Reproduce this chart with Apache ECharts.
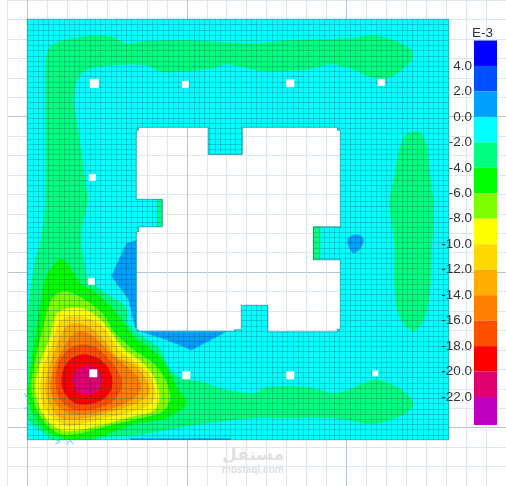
<!DOCTYPE html>
<html>
<head>
<meta charset="utf-8">
<style>
  html, body { margin: 0; padding: 0; background: #fff; }
  #chart { width: 506px; height: 486px; }
</style>
</head>
<body>
<div id="chart"></div>
<script src="https://cdn.jsdelivr.net/npm/echarts@6/dist/echarts.min.js"></script>
<script>
// colour scale, top band first
const bandHigh = [6, 4, 2, 0, -2, -4, -6, -8, -10, -12, -14, -16, -18, -20, -22];
const bandLow = [4, 2, 0, -2, -4, -6, -8, -10, -12, -14, -16, -18, -20, -22, -24.2];
const bandColor = ["#0000ff", "#0050ff", "#00a0ff", "#00ffff", "#00ff80", "#00ff00", "#80ff00", "#ffff00",
  "#ffd800", "#ffae00", "#ff8000", "#ff5000", "#ff0000", "#e00070", "#c000c0"];

// slab size and opening, in plate units
const plateWidth = 421.4;
const plateHeight = 420.4;
const meshCells = 81;
const opening = [[181, 108], [181, 135], [215, 135], [215, 108], [310, 108], [310, 111], [313, 111], [313, 207.5],
  [286, 207.5], [286, 240.5], [313, 240.5], [313, 310], [310, 310], [310, 312.5], [240.5, 312.5], [240.5, 286],
  [214, 286], [214, 310.5], [207, 310.5], [207, 312], [111, 312], [111, 310.5], [109, 310.5], [109, 212.5],
  [111.5, 212.5], [111.5, 207.5], [135, 207.5], [135, 180], [109, 180], [109, 111], [111, 111], [111, 108]];

// column openings
const columnX = [67, 158, 263, 354, 65, 64, 66, 159, 263, 348];
const columnY = [64, 65, 64, 63, 158, 262, 354, 356, 356, 354];
const columnSize = [9, 7, 8, 7, 7, 7, 8, 8, 8, 6];

// contours: -2 to -4
const ringMinus3 = [[19, 37], [23, 27], [36, 21], [69, 16], [86, 18], [99, 24], [116, 22], [159, 21], [226, 24], [259, 21],
  [323, 19], [346, 16], [366, 21], [381, 28], [386, 36], [382, 44], [369, 55], [357, 60], [346, 59], [332, 53], [316, 47],
  [302, 45], [282, 50], [236, 52], [199, 45], [186, 49], [136, 53], [119, 46], [86, 46], [59, 51], [49, 64], [47, 84],
  [51, 111], [56, 147], [60, 181], [55, 207], [54, 224], [57, 244], [60, 257], [69, 267], [83, 277], [98, 287], [101, 304],
  [108, 312], [119, 320], [133, 330], [141, 347], [153, 359], [173, 362], [193, 369], [226, 374], [239, 368], [282, 368],
  [306, 374], [322, 370], [336, 364], [347, 360], [362, 364], [379, 374], [386, 385], [379, 394], [359, 402], [342, 405],
  [326, 402], [309, 399], [259, 399], [226, 399], [173, 405], [133, 412], [106, 416], [73, 419], [63, 422], [28, 422],
  [16, 414], [-1, 397], [-1, 321], [1, 287], [5, 257], [9, 237], [13, 224], [18, 181], [18, 81]];
const sideMinus3 = [[387, 112], [394, 114], [399, 124], [402, 147], [406, 184], [404, 244], [402, 280], [397, 300], [387, 312],
  [376, 304], [369, 287], [367, 264], [367, 224], [362, 184], [367, 157], [371, 134], [377, 117]];
const notchLeftMinus3 = [[130, 180], [135, 180], [135, 207.5], [130, 207.5]];
const notchRightMinus3 = [[286, 207.5], [293, 207.5], [293, 240.5], [286, 240.5]];

// hot zone, nested
const hotMinus5 = [[32, 240], [38, 242], [44, 250], [53, 264], [69, 274], [86, 290], [99, 307], [106, 317], [129, 334], [139, 347],
  [149, 367], [159, 382], [158, 387], [139, 399], [106, 405], [73, 417], [43, 420], [23, 414], [9, 400], [1, 380], [3, 350],
  [8, 317], [14, 280], [19, 257]];
const hotMinus7 = [[36, 272], [48, 275], [63, 284], [76, 295], [88, 314], [106, 330], [126, 344], [138, 360], [143, 379], [136, 392],
  [113, 399], [79, 407], [53, 414], [33, 415], [18, 404], [8, 387], [4, 367], [8, 340], [16, 307], [24, 280]];
const hotMinus9 = [[41, 289], [58, 290], [73, 300], [83, 312], [96, 329], [116, 344], [128, 360], [132, 380], [126, 392], [106, 397],
  [69, 407], [39, 412], [24, 405], [13, 390], [8, 367], [14, 340], [23, 317], [29, 295]];
const hotMinus11 = [[41, 297], [53, 297], [68, 302], [79, 312], [91, 330], [109, 344], [123, 357], [128, 374], [123, 385], [106, 392],
  [73, 400], [41, 407], [28, 400], [16, 387], [13, 367], [16, 347], [24, 327], [31, 304]];
const hotMinus13 = [[39, 307], [51, 304], [64, 309], [76, 320], [89, 337], [106, 345], [119, 360], [122, 374], [109, 384], [79, 394],
  [53, 400], [34, 399], [23, 387], [18, 370], [21, 350], [29, 327]];
const hotMinus15 = [[54, 312], [66, 317], [79, 330], [93, 342], [108, 355], [114, 367], [109, 377], [86, 389], [59, 395], [41, 394],
  [28, 384], [23, 367], [26, 350], [33, 334], [44, 317]];
const hotMinus17 = [[54, 325], [66, 327], [76, 334], [88, 347], [94, 360], [94, 370], [83, 384], [61, 391], [43, 389], [31, 377],
  [28, 360], [31, 344], [41, 330]];
const hotMinus19 = [[56, 335], [71, 339], [81, 349], [85, 360], [84, 370], [76, 380], [61, 385], [48, 384], [38, 375], [34, 364],
  [36, 350], [43, 340]];
const hotMinus21 = [[56, 347], [63, 346], [69, 349], [74, 357], [74, 365], [68, 374], [58, 376], [49, 372], [45, 362], [48, 352]];

// positive patches beside the opening
const patchWest = [[109, 221], [99, 224], [84, 257], [101, 280], [108, 309], [109, 309]];
const patchSouth = [[114, 312.5], [199, 312.5], [164, 331], [140, 321]];
const patchEast = [[321, 219], [328, 215], [336, 219], [334, 228], [326, 234], [320, 224]];
const patchBottom = [[103, 419], [203, 419], [203, 421], [103, 421]];

// support marks
const supportMarks = [[-3, 374, 1, 380], [-3, 390, 1, 386], [28, 420, 33, 422], [28, 425, 33, 422], [39, 425, 43, 421], [43, 421, 46, 425]];

const platePoints = [[181, 0], [plateWidth, 0], [plateWidth, plateHeight], [0, plateHeight], [0, 0], [181, 0],
  opening[0], ...opening.slice(1).reverse(), opening[0]];
const plateEdge = [[0, 0], [plateWidth, 0], [plateWidth, plateHeight], [0, plateHeight]];

const regions = [
  { value: -1, points: platePoints, smooth: 0 },
  { value: -3, points: ringMinus3, smooth: 0.3 },
  { value: -3, points: sideMinus3, smooth: 0.3 },
  { value: -3, points: notchLeftMinus3, smooth: 0 },
  { value: -3, points: notchRightMinus3, smooth: 0 },
  { value: -5, points: hotMinus5, smooth: 0.3 },
  { value: -7, points: hotMinus7, smooth: 0.3 },
  { value: -9, points: hotMinus9, smooth: 0.3 },
  { value: -11, points: hotMinus11, smooth: 0.3 },
  { value: -13, points: hotMinus13, smooth: 0.3 },
  { value: -15, points: hotMinus15, smooth: 0.3 },
  { value: -17, points: hotMinus17, smooth: 0.3 },
  { value: -19, points: hotMinus19, smooth: 0.3 },
  { value: -21, points: hotMinus21, smooth: 0.3 },
  { value: 1, points: patchWest, smooth: 0 },
  { value: 1, points: patchSouth, smooth: 0 },
  { value: 1, points: patchEast, smooth: 0.3 },
  { value: 1, points: patchBottom, smooth: 0 },
];

function colorOf(v) {
  const i = bandHigh.findIndex((h, k) => v <= h && v >= bandLow[k]);
  return bandColor[i];
}

// mesh lines stop at the opening
function meshRuns(horizontal, c, end) {
  const cuts = [];
  opening.forEach((p, i) => {
    const q = opening[(i + 1) % opening.length];
    const a = horizontal ? p[1] : p[0];
    const b = horizontal ? q[1] : q[0];
    if ((a < c) !== (b < c)) cuts.push(horizontal ? p[0] : p[1]);
  });
  cuts.sort((a, b) => a - b);
  const stops = [0, ...cuts, end];
  const runs = [];
  for (let i = 0; i < stops.length; i += 2) {
    runs.push(horizontal ? [stops[i], c, stops[i + 1], c] : [c, stops[i], c, stops[i + 1]]);
  }
  return runs;
}

const meshSegments = [];
for (let i = 1; i < meshCells; i++) {
  meshSegments.push(...meshRuns(true, (i * plateHeight) / meshCells, plateWidth));
  meshSegments.push(...meshRuns(false, (i * plateWidth) / meshCells, plateHeight));
}

const segmentItem = (stroke) => (params, api) => {
  const a = api.coord([api.value(0), api.value(1)]);
  const b = api.coord([api.value(2), api.value(3)]);
  // keep the thin lines on whole pixels
  const snap = (n) => Math.round(n) + 0.5;
  const flatX = a[0] === b[0];
  const flatY = a[1] === b[1];
  return {
    type: "line",
    shape: {
      x1: flatX ? snap(a[0]) : a[0],
      y1: flatY ? snap(a[1]) : a[1],
      x2: flatX ? snap(b[0]) : b[0],
      y2: flatY ? snap(b[1]) : b[1],
    },
    style: { stroke, lineWidth: 1 },
  };
};

const minorPaper = "#dde7f0";
const majorPaper = "#b4c6d8";
const axisOff = { show: false };

const option = {
  animation: false,
  title: [
    { text: "E-3", left: 467, top: 21, textStyle: { fontFamily: "Liberation Sans", fontSize: 13.5, fontWeight: "normal", color: "#333" } },
    { text: "مستقل", left: 217, top: 442, textStyle: { fontFamily: "DejaVu Sans", fontSize: 17, fontWeight: "bold", color: "#e0e0e0" } },
    { text: "mostaql.com", left: 217, top: 460, textStyle: { fontFamily: "Liberation Sans", fontSize: 10, fontWeight: "bold", color: "#e0e0e0" } },
  ],
  grid: [
    { left: 7.3, top: -0.7, width: 500, height: 500.75 },
    { left: 27.3, top: 19.3, width: plateWidth, height: plateHeight },
    { left: 474, top: 40.5, width: 23, height: 382 },
  ],
  xAxis: [
    {
      gridIndex: 0, type: "value", min: 0, max: 25, interval: 1,
      axisLine: axisOff, axisTick: axisOff, axisLabel: axisOff,
      splitLine: { show: true, lineStyle: { width: 1, color: [minorPaper, majorPaper, minorPaper, minorPaper, minorPaper, minorPaper, minorPaper, minorPaper] } },
    },
    { gridIndex: 1, type: "value", min: 0, max: plateWidth, show: false },
    { gridIndex: 2, type: "value", min: 0, max: 1, show: false },
  ],
  yAxis: [
    {
      gridIndex: 0, type: "value", min: 0, max: 25, interval: 1, inverse: true,
      axisLine: axisOff, axisTick: axisOff, axisLabel: axisOff,
      splitLine: { show: true, lineStyle: { width: 1, color: [minorPaper, minorPaper, minorPaper, minorPaper, minorPaper, minorPaper, majorPaper, minorPaper] } },
    },
    { gridIndex: 1, type: "value", min: 0, max: plateHeight, inverse: true, show: false },
    {
      gridIndex: 2, type: "value", min: -24, max: 6, interval: 2, z: 20,
      axisLine: axisOff, axisTick: axisOff, splitLine: axisOff,
      axisLabel: {
        margin: 2, fontFamily: "Liberation Sans", fontSize: 13.5, color: "#333",
        formatter: (v) => (v === 6 || v === -24 ? "" : v.toFixed(1)),
      },
    },
  ],
  series: [
    {
      type: "custom", xAxisIndex: 1, yAxisIndex: 1, clip: true, silent: true,
      data: regions.map((r, i) => [i, r.value]),
      renderItem: (params, api) => {
        const r = regions[params.dataIndex];
        return {
          type: "polygon",
          shape: { points: r.points.map((p) => api.coord(p)), smooth: r.smooth },
          style: { fill: colorOf(r.value) },
        };
      },
    },
    {
      type: "custom", xAxisIndex: 1, yAxisIndex: 1, silent: true,
      encode: { x: [0, 2], y: [1, 3] },
      data: meshSegments,
      renderItem: segmentItem("rgba(0,50,70,0.23)"),
    },
    {
      type: "custom", xAxisIndex: 1, yAxisIndex: 1, silent: true,
      data: [[0, 0], [1, 0]],
      renderItem: (params, api) => {
        const ring = params.dataIndex === 0 ? opening : plateEdge;
        return {
          type: "polygon",
          shape: { points: ring.map((p) => api.coord(p)) },
          style: { fill: "none", stroke: "rgba(0,120,145,0.6)", lineWidth: 1 },
        };
      },
    },
    {
      type: "custom", xAxisIndex: 1, yAxisIndex: 1, silent: true,
      encode: { x: [0, 2], y: [1, 3] },
      data: supportMarks,
      renderItem: segmentItem("#40d8e8"),
    },
    {
      type: "scatter", xAxisIndex: 1, yAxisIndex: 1, silent: true,
      symbol: "rect",
      data: columnX.map((x, i) => [x, columnY[i], columnSize[i]]),
      symbolSize: (d) => d[2],
      itemStyle: { color: "#fff", opacity: 1 },
    },
    {
      type: "custom", xAxisIndex: 2, yAxisIndex: 2, silent: true,
      data: bandHigh.map((h, i) => [i, h]),
      renderItem: (params, api) => {
        const i = params.dataIndex;
        const a = api.coord([0, bandHigh[i]]);
        const b = api.coord([1, bandLow[i]]);
        return {
          type: "rect",
          shape: { x: a[0], y: a[1], width: b[0] - a[0], height: b[1] - a[1] },
          style: { fill: bandColor[i] },
        };
      },
    },
  ],
};

const myChart = echarts.init(document.getElementById("chart"));
myChart.setOption(option);
</script>
</body>
</html>
